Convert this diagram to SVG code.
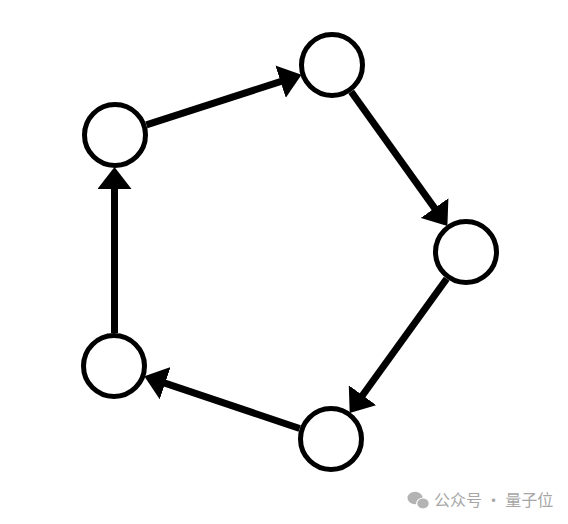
<svg xmlns="http://www.w3.org/2000/svg" width="568" height="524" viewBox="0 0 568 524">
  <style>
    .node { fill: #ffffff; stroke: #000000; stroke-width: 5; }
    .edge { fill: none; stroke: #000000; stroke-width: 7; }
    .wm { fill: #a6a6a6; font-family: "Noto Sans CJK SC", "Noto Sans", sans-serif; font-size: 16px; }
  </style>
  <defs>
    <marker id="arrow" markerUnits="userSpaceOnUse" markerWidth="22" markerHeight="34" viewBox="0 0 22 34" refX="16" refY="17" orient="auto">
      <path d="M0,0 L22,17 L0,34 z" fill="#000000"/>
    </marker>
  </defs>
  <rect width="568" height="524" fill="#ffffff"/>
  <g id="connectors">
    <line class="edge" x1="146.4" y1="124.9" x2="295.8" y2="76.7" marker-end="url(#arrow)"/>
    <line class="edge" x1="351.2" y1="91.8" x2="443.9" y2="221.1" marker-end="url(#arrow)"/>
    <line class="edge" x1="446.7" y1="278.8" x2="353.2" y2="408.2" marker-end="url(#arrow)"/>
    <line class="edge" x1="299.7" y1="428.5" x2="150.0" y2="378.1" marker-end="url(#arrow)"/>
    <line class="edge" x1="114.5" y1="333" x2="114.5" y2="173" marker-end="url(#arrow)"/>
  </g>
  <g id="node-a"><circle class="node" cx="115" cy="135" r="30.5"/></g>
  <g id="node-b"><circle class="node" cx="332" cy="65" r="30.5"/></g>
  <g id="node-c"><circle class="node" cx="466" cy="252" r="30.5"/></g>
  <g id="node-d"><circle class="node" cx="331" cy="439" r="30.5"/></g>
  <g id="node-e"><circle class="node" cx="114" cy="366" r="30.5"/></g>
  <g id="watermark">
    <ellipse cx="415" cy="498" rx="7.5" ry="6.2" fill="#b3b3b3"/>
    <ellipse cx="423" cy="503.5" rx="6.3" ry="5.5" fill="#b3b3b3" stroke="#ffffff" stroke-width="1.2"/>
    <text class="wm" x="434" y="506">公众号 · 量子位</text>
  </g>
</svg>
